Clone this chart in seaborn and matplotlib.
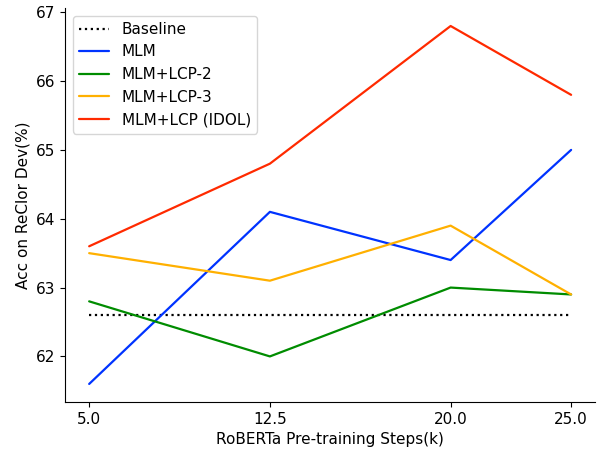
import matplotlib
matplotlib.use("Agg")
import matplotlib.pyplot as plt
import seaborn as sns
import pandas as pd

steps = [5.0, 12.5, 20.0, 25.0]
baseline = [62.6, 62.6, 62.6, 62.6]
mlm = [61.6, 64.1, 63.4, 65.0]
mlm_lcp2 = [62.8, 62.0, 63.0, 62.9]
mlm_lcp3 = [63.5, 63.1, 63.9, 62.9]
mlm_idol = [63.6, 64.8, 66.8, 65.8]

series_names = ["Baseline", "MLM", "MLM+LCP-2", "MLM+LCP-3", "MLM+LCP (IDOL)"]
series_vals = [baseline, mlm, mlm_lcp2, mlm_lcp3, mlm_idol]
colors = ["black", "#0033ff", "#008c00", "#ffb000", "#ff2a00"]
styles = [":", "-", "-", "-", "-"]

sns.set_style("ticks")
plt.rcParams['font.family'] = ['DejaVu Sans']
plt.rcParams.update({"text.color": "black", "axes.labelcolor": "black",
                     "xtick.color": "black", "ytick.color": "black",
                     "axes.edgecolor": "black"})

fig = plt.figure(figsize=(5.97, 4.5), dpi=100)
ax = fig.add_axes([0.109, 0.107, 0.888, 0.875])

for name, vals, c, ls in zip(series_names, series_vals, colors, styles):
    df = pd.DataFrame({"x": steps, "y": vals})
    sns.lineplot(data=df, x="x", y="y", ax=ax, color=c, linestyle=ls,
                 linewidth=1.6, label=name)

ax.set_xticks(steps)
ax.set_xticklabels(["5.0", "12.5", "20.0", "25.0"])
ax.set_yticks([62, 63, 64, 65, 66, 67])
ax.tick_params(labelsize=11)
ax.set_xlabel("RoBERTa Pre-training Steps(k)", fontsize=11)
ax.set_ylabel("Acc on ReClor Dev(%)", fontsize=11)
sns.despine(ax=ax)
ax.legend(loc="upper left", fontsize=11, frameon=True)
fig.savefig("out.png", dpi=100)
